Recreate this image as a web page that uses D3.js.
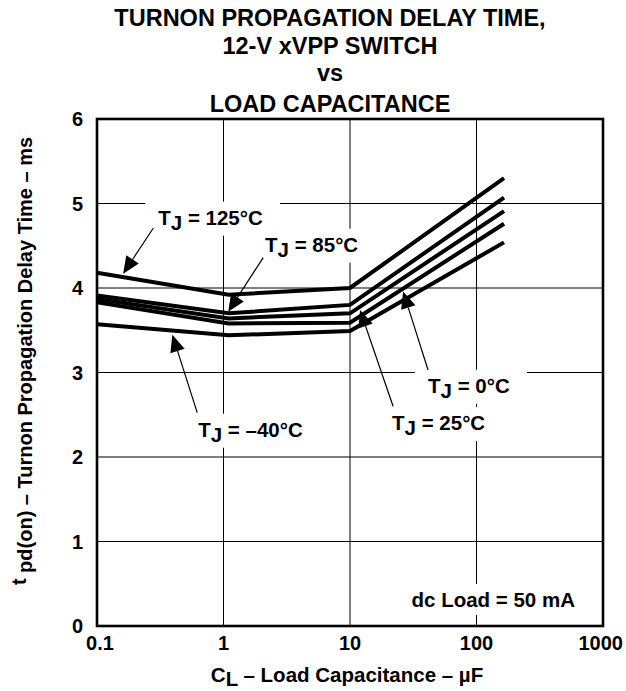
<!DOCTYPE html>
<html>
<head>
<meta charset="utf-8">
<script src="https://cdn.jsdelivr.net/npm/d3@7"></script>
<style>
  body { margin: 0; background: #fff; }
  svg { display: block; font-family: "Liberation Sans", Arial, sans-serif; font-weight: bold; }
</style>
</head>
<body>
<svg width="626" height="691"></svg>
<script>
// curve data
const capacitance = [0.1, 1.1, 10, 165];
const tj125 = [4.18, 3.92, 4.00, 5.30];
const tj85 = [3.91, 3.70, 3.80, 5.07];
const tj25 = [3.87, 3.64, 3.70, 4.91];
const tj0 = [3.83, 3.58, 3.59, 4.76];
const tjm40 = [3.57, 3.44, 3.49, 4.54];

const xTicks = [0.1, 1, 10, 100, 1000];
const xTickLabels = ['0.1', '1', '10', '100', '1000'];
const yTicks = [0, 1, 2, 3, 4, 5, 6];

const titleLines = ['TURNON PROPAGATION DELAY TIME,', '12-V xVPP SWITCH', 'vs', 'LOAD CAPACITANCE'];

// labels: text anchor, arrow tail, arrow tip (data units)
const labelTemps = ['125', '85', '25', '0', '\u201340'];
const labelAt = [[0.305, 4.75], [2.13, 4.43], [21.5, 2.32], [41.4, 2.76], [0.631, 2.24]];
const arrowFrom = [[0.279, 4.71], [2.06, 4.36], [21.9, 2.60], [41.4, 3.03], [0.62, 2.525]];
const arrowTo = [[0.161, 4.17], [1.09, 3.72], [12.0, 3.74], [26.3, 3.96], [0.394, 3.447]];

const svg = d3.select('svg');
const margin = { top: 119, right: 23, bottom: 65, left: 97 };
const width = 626, height = 691;

const x = d3.scaleLog().domain([0.1, 1000]).range([margin.left, width - margin.right]);
const y = d3.scaleLinear().domain([0, 6]).range([height - margin.bottom, margin.top]);

// title
svg.append('g').selectAll('text').data(titleLines).enter().append('text')
  .attr('x', 330)
  .attr('y', (d, i) => [26, 54, 81, 112][i])
  .attr('text-anchor', 'middle')
  .attr('font-size', 23.5)
  .text(d => d);

// grid
const grid = svg.append('g').attr('stroke', '#000').attr('stroke-width', 1);
grid.selectAll('.vx').data(xTicks.slice(1, -1)).enter().append('line')
  .attr('x1', d => x(d)).attr('x2', d => x(d))
  .attr('y1', y(0)).attr('y2', y(6));
grid.selectAll('.hy').data(yTicks.slice(1, -1)).enter().append('line')
  .attr('x1', x(0.1)).attr('x2', x(1000))
  .attr('y1', d => y(d)).attr('y2', d => y(d));

// label texts (white boxes knock out the grid)
const boxes = svg.append('g');
const labels = svg.append('g').attr('font-size', 20.5);

labelTemps.forEach((t, i) => {
  const txt = labels.append('text')
    .attr('x', x(labelAt[i][0]))
    .attr('y', y(labelAt[i][1]));
  txt.append('tspan').text('T');
  txt.append('tspan').attr('dy', 5).text('J');
  txt.append('tspan').attr('dy', -5).text(' = ' + t + '\u00b0C');
  const b = txt.node().getBBox();
  boxes.append('rect')
    .attr('x', b.x - 13).attr('y', b.y - 4)
    .attr('width', b.width + 30).attr('height', b.height + 6)
    .attr('fill', '#fff');
});

const dc = labels.append('text')
  .attr('x', 575).attr('y', 607)
  .attr('text-anchor', 'end')
  .text('dc Load = 50 mA');
const db = dc.node().getBBox();
boxes.append('rect')
  .attr('x', db.x - 10).attr('y', db.y - 4)
  .attr('width', db.width + 20).attr('height', db.height + 8)
  .attr('fill', '#fff');

// frame
svg.append('rect')
  .attr('x', x(0.1)).attr('y', y(6))
  .attr('width', x(1000) - x(0.1)).attr('height', y(0) - y(6))
  .attr('fill', 'none').attr('stroke', '#000').attr('stroke-width', 2.6);

// curves
const line = d3.line().x(d => x(d[0])).y(d => y(d[1]));
const series = [tj125, tj85, tj25, tj0, tjm40];
svg.append('g').selectAll('path').data(series).enter().append('path')
  .attr('d', s => line(capacitance.map((c, i) => [c, s[i]])))
  .attr('fill', 'none').attr('stroke', '#000').attr('stroke-width', 4)
  .attr('stroke-linejoin', 'miter');

// arrows
const arrows = svg.append('g');
labelTemps.forEach((t, i) => {
  const x0 = x(arrowFrom[i][0]), y0 = y(arrowFrom[i][1]);
  const x1 = x(arrowTo[i][0]), y1 = y(arrowTo[i][1]);
  const a = Math.atan2(y1 - y0, x1 - x0);
  const len = 17, hw = 7.5;
  const bx = x1 - len * Math.cos(a), by = y1 - len * Math.sin(a);
  arrows.append('line')
    .attr('x1', x0).attr('y1', y0).attr('x2', bx).attr('y2', by)
    .attr('stroke', '#000').attr('stroke-width', 1.2);
  arrows.append('path')
    .attr('d', `M${x1},${y1}L${bx + hw * Math.sin(a)},${by - hw * Math.cos(a)}L${bx - hw * Math.sin(a)},${by + hw * Math.cos(a)}Z`)
    .attr('fill', '#000');
});

// tick labels
const ticks = svg.append('g').attr('font-size', 20);
ticks.selectAll('.xt').data(xTicks).enter().append('text')
  .attr('x', d => x(d)).attr('y', 650)
  .attr('text-anchor', (d, i) => i === xTicks.length - 1 ? 'end' : 'middle')
  .attr('dx', (d, i) => i === xTicks.length - 1 ? 20 : (i === 0 ? 3 : 0))
  .text((d, i) => xTickLabels[i]);
ticks.selectAll('.yt').data(yTicks).enter().append('text')
  .attr('x', 83).attr('y', d => y(d))
  .attr('dy', '0.36em')
  .attr('text-anchor', 'end')
  .text(d => d);

// axis titles
const xt = svg.append('text')
  .attr('x', 347).attr('y', 682)
  .attr('text-anchor', 'middle').attr('font-size', 20.5);
xt.append('tspan').text('C');
xt.append('tspan').attr('dy', 4).text('L');
xt.append('tspan').attr('dy', -4).text(' \u2013 Load Capacitance \u2013 \u00b5F');

const yt = svg.append('text')
  .attr('transform', 'translate(32,361) rotate(-90)')
  .attr('text-anchor', 'middle').attr('font-size', 20);
yt.append('tspan').attr('dy', -6).text('t');
yt.append('tspan').attr('dy', 6).text(' pd(on) \u2013 Turnon Propagation Delay Time \u2013 ms');
</script>
</body>
</html>
